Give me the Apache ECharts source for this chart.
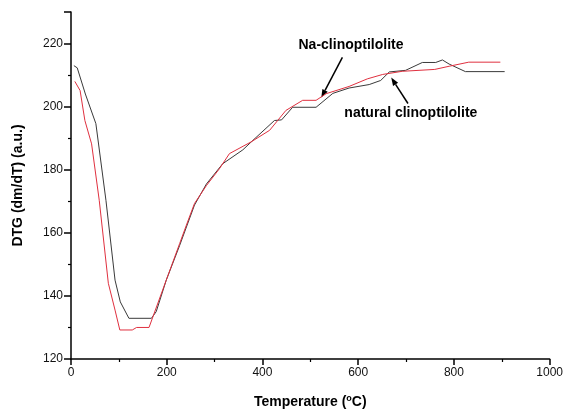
<!DOCTYPE html>
<html><head><meta charset="utf-8">
<script src="https://cdn.jsdelivr.net/npm/echarts@6/dist/echarts.min.js"></script>
<style>html,body{margin:0;padding:0;background:#fff}#c{width:566px;height:414px}</style>
</head><body><div id="c"></div>
<script>
const naturalT = [6, 13, 30, 52, 73, 92, 103, 121, 168, 178, 199, 227, 258, 283, 317, 359, 380, 425, 440, 463, 512, 547, 581, 623, 647, 665, 699, 734, 762, 776, 790, 824, 906];
const naturalV = [213.0, 212.3, 204, 194.6, 170.3, 145, 138.1, 132.9, 132.9, 135, 145, 156, 168.8, 175.5, 181.9, 186.3, 189.3, 195.6, 195.8, 199.8, 199.8, 204.2, 205.9, 207, 208.3, 211, 211.5, 214, 214, 214.8, 213.5, 211.1, 211.1];
const naT = [8, 19, 29, 43, 59, 78, 92, 102, 128, 137, 163, 199, 227, 241, 258, 283, 310, 331, 376, 415, 449, 484, 512, 533, 581, 619, 651, 692, 760, 790, 831, 897];
const naV = [208, 205.1, 195.6, 188.2, 170.3, 144, 135.5, 129.2, 129.2, 130, 130, 145, 156.6, 162.4, 169.3, 175, 180.3, 185.1, 188.8, 192.5, 198.8, 202, 202, 204.1, 206.4, 208.8, 210.2, 211.2, 211.8, 212.8, 214.1, 214.1];
const seriesNames = ['natural clinoptilolite', 'Na-clinoptilolite'];
const xName = 'Temperature ({sup|o}C)';
const yName = 'DTG (dm/dT) (a.u.)';

const FONT = '"Liberation Sans", Arial, Helvetica, sans-serif';
const zip = (a, b) => a.map((t, i) => [t, b[i]]);
const chart = echarts.init(document.getElementById('c'), null, {renderer: 'canvas'});
const axisCommon = {
  axisLine: {show: true, lineStyle: {color: '#000', width: 1.5}},
  axisTick: {show: true, inside: false, length: 6, lineStyle: {color: '#000', width: 1.5}},
  minorTick: {show: true, splitNumber: 2, length: 3, lineStyle: {color: '#000', width: 1.2}},
  splitLine: {show: false},
  axisLabel: {color: '#111', fontSize: 12, fontFamily: FONT, formatter: v => String(v)},
  nameTextStyle: {color: '#000', fontSize: 14, fontWeight: 'bold', fontFamily: FONT}
};
chart.setOption({
  animation: false,
  backgroundColor: '#fff',
  grid: {left: 71, right: 15, top: 12, bottom: 55},
  xAxis: Object.assign({}, axisCommon, {
    type: 'value', min: 0, max: 1000, interval: 200,
    name: xName, nameLocation: 'middle', nameGap: 35,
    nameTextStyle: Object.assign({}, axisCommon.nameTextStyle, {
      rich: {sup: {fontSize: 9, fontWeight: 'bold', fontFamily: FONT, color: '#000', padding: [0, 0, 7, 0]}}
    }),
    axisLabel: Object.assign({}, axisCommon.axisLabel, {margin: 8})
  }),
  yAxis: Object.assign({}, axisCommon, {
    type: 'value', min: 120, max: 230, interval: 20,
    name: yName, nameLocation: 'middle', nameGap: 46,
    axisLabel: Object.assign({}, axisCommon.axisLabel, {margin: 8, showMaxLabel: false}),
    axisTick: Object.assign({}, axisCommon.axisTick, {length: 7})
  }),
  series: [
    {name: seriesNames[0], type: 'line', data: zip(naturalT, naturalV), showSymbol: false,
     lineStyle: {color: '#3a3a3a', width: 1}, z: 2},
    {name: seriesNames[1], type: 'line', data: zip(naT, naV), showSymbol: false,
     lineStyle: {color: '#e0303f', width: 1}, z: 3}
  ]
});

// annotations (data-space anchors)
const notes = [
  {text: seriesNames[1], label: [585, 219.4], from: [567, 215.6], to: [523, 202.9]},
  {text: seriesNames[0], label: [710, 197.8], from: [704, 201], to: [669, 209.2]}
];
const g = [];
notes.forEach(n => {
  const lp = chart.convertToPixel({gridIndex: 0}, n.label);
  const a = chart.convertToPixel({gridIndex: 0}, n.from);
  const b = chart.convertToPixel({gridIndex: 0}, n.to);
  g.push({type: 'text', x: lp[0], y: lp[1], style: {text: n.text, font: 'bold 14px ' + FONT, fill: '#000', align: 'center', verticalAlign: 'middle'}});
  const dx = b[0] - a[0], dy = b[1] - a[1], L = Math.hypot(dx, dy);
  const ux = dx / L, uy = dy / L, hl = 8, hw = 3;
  const bx = b[0] - ux * hl, by = b[1] - uy * hl;
  g.push({type: 'line', shape: {x1: a[0], y1: a[1], x2: bx, y2: by}, style: {stroke: '#000', lineWidth: 1.5}});
  g.push({type: 'polygon', shape: {points: [[b[0], b[1]], [bx - uy * hw, by + ux * hw], [bx + uy * hw, by - ux * hw]]}, style: {fill: '#000'}});
});
chart.setOption({graphic: g});
</script></body></html>
